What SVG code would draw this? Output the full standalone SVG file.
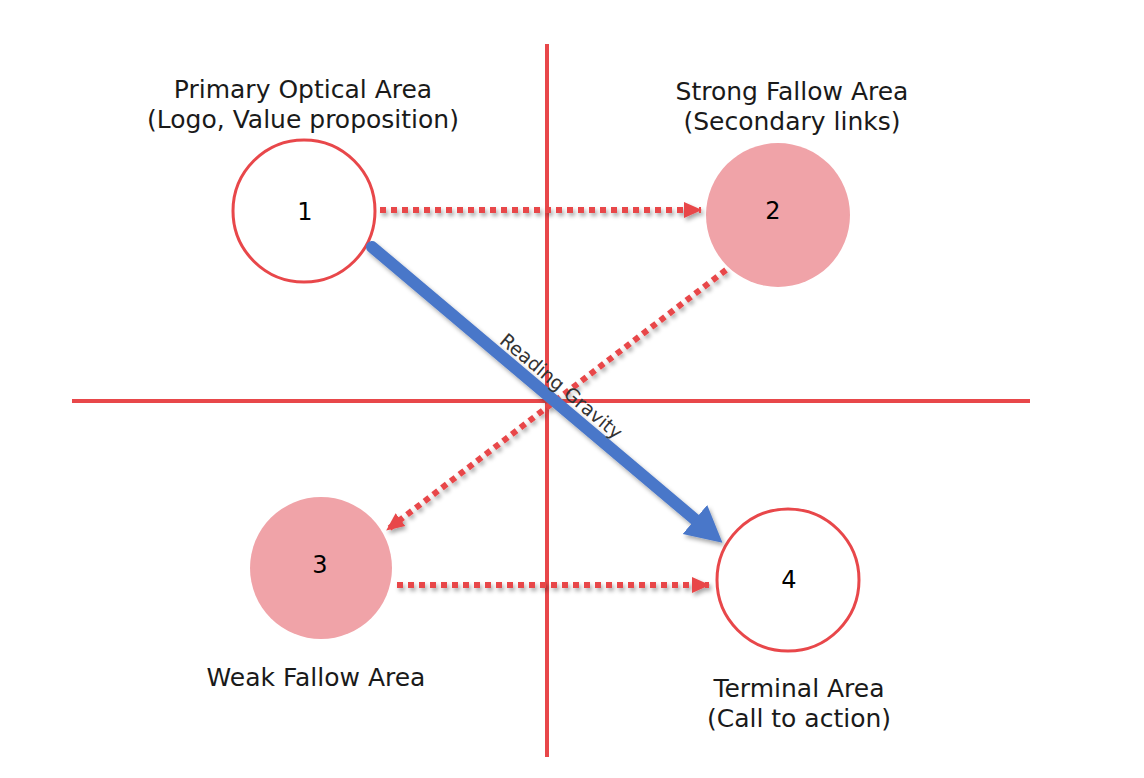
<svg xmlns="http://www.w3.org/2000/svg" width="1144" height="778" viewBox="0 0 1144 778">
<style>
.axis{stroke:#E8474A;stroke-width:4;fill:none}
.ring{fill:#FFFFFF;stroke:#E8474A;stroke-width:3}
.soft{fill:#F0A3A8;stroke:none}
.dot{stroke:#E8474A;stroke-width:6;stroke-dasharray:6 5;fill:none;marker-end:url(#redHead)}
.lbl{font-family:"DejaVu Sans","Verdana",sans-serif;font-size:25px;fill:#1a1a1a;text-anchor:middle}
.num{font-family:"DejaVu Sans","Verdana",sans-serif;font-size:24px;fill:#000;text-anchor:middle}
.rg{font-family:"DejaVu Sans","Verdana",sans-serif;font-size:19px;fill:#333;text-anchor:middle}
</style>
<defs>
<filter id="sh" filterUnits="userSpaceOnUse" x="0" y="0" width="1144" height="778">
<feDropShadow dx="2" dy="3" stdDeviation="2" flood-color="#000" flood-opacity="0.35"/>
</filter>
<marker id="redHead" markerUnits="userSpaceOnUse" markerWidth="20" markerHeight="18" refX="17" refY="9" orient="auto">
<path d="M0,1 L18,9 L0,17 Z" fill="#E8474A"/>
</marker>
<marker id="blueHead" markerUnits="userSpaceOnUse" markerWidth="40" markerHeight="42" refX="4" refY="21" orient="auto">
<path d="M0,2 L36,21 L0,40 Z" fill="#4A77C9"/>
</marker>
</defs>
<rect width="1144" height="778" fill="#FFFFFF"/>
<g id="axes">
<line class="axis" x1="547" y1="44" x2="547" y2="757"/>
<line class="axis" x1="72" y1="401" x2="1030" y2="401"/>
</g>
<g id="node1">
<circle class="ring" cx="304" cy="211" r="71"/>
<text class="num" x="305" y="220">1</text>
<text class="lbl" x="303" y="98">Primary Optical Area</text>
<text class="lbl" x="303" y="128">(Logo, Value proposition)</text>
</g>
<g id="node2">
<circle class="soft" cx="778" cy="215" r="72"/>
<text class="num" x="773" y="219">2</text>
<text class="lbl" x="792" y="100">Strong Fallow Area</text>
<text class="lbl" x="792" y="130">(Secondary links)</text>
</g>
<g id="node3">
<circle class="soft" cx="321" cy="568" r="71"/>
<text class="num" x="320" y="573">3</text>
<text class="lbl" x="316" y="686">Weak Fallow Area</text>
</g>
<g id="node4">
<circle class="ring" cx="788" cy="580" r="71"/>
<text class="num" x="789" y="588">4</text>
<text class="lbl" x="799" y="697">Terminal Area</text>
<text class="lbl" x="799" y="727">(Call to action)</text>
</g>
<g id="connectors">
<g filter="url(#sh)">
<line class="dot" x1="380" y1="210" x2="701" y2="210"/>
<line class="dot" x1="726" y1="270" x2="387" y2="530"/>
<line class="dot" x1="397" y1="585" x2="709" y2="585"/>
<line x1="372" y1="247" x2="698" y2="522" stroke="#4A77C9" stroke-width="12" stroke-linecap="round" marker-end="url(#blueHead)"/>
</g>
<text class="rg" transform="translate(550.7,399) rotate(39.9)" x="0" y="-10">Reading Gravity</text>
</g>
</svg>
